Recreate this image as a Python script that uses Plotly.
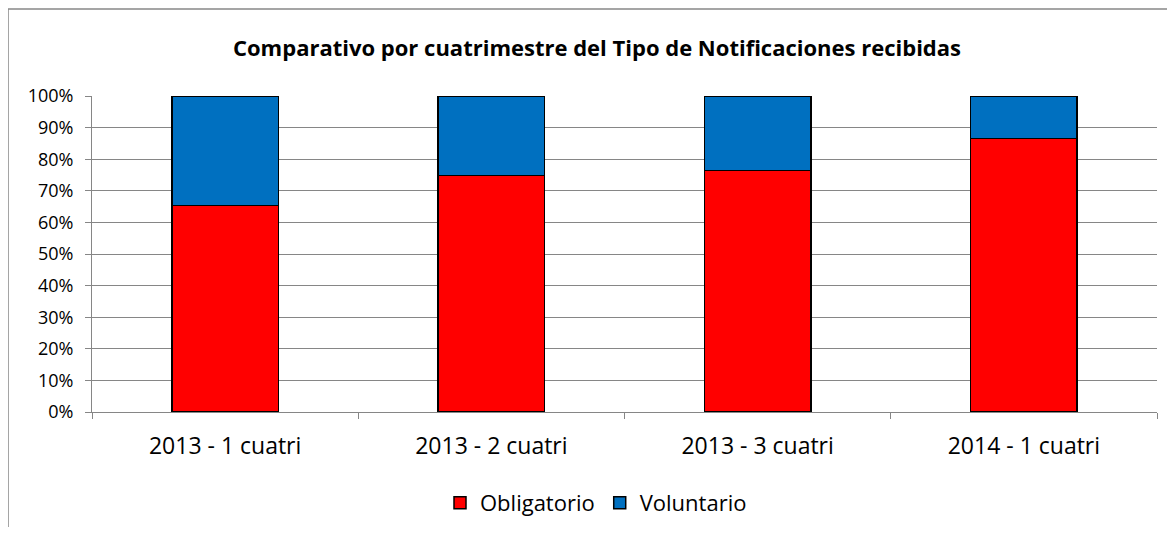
import plotly.graph_objects as go

categories = ["2013 - 1 cuatri", "2013 - 2 cuatri", "2013 - 3 cuatri", "2014 - 1 cuatri"]
obligatorio = [65.3, 74.8, 76.5, 86.5]
voluntario = [34.7, 25.2, 23.5, 13.5]
y_ticks = [0, 10, 20, 30, 40, 50, 60, 70, 80, 90, 100]
y_tick_labels = [f"{v}%" for v in y_ticks]

FONT = "Open Sans"
OFF = 8  # page body margin

fig = go.Figure()
fig.add_trace(go.Bar(name="Obligatorio", x=categories, y=obligatorio,
                     marker=dict(color="#FF0000", line=dict(color="#000000", width=1.5)),
                     width=0.4))
fig.add_trace(go.Bar(name="Voluntario", x=categories, y=voluntario,
                     marker=dict(color="#0070C0", line=dict(color="#000000", width=1.5)),
                     width=0.4))

W, H = 1175 - 2 * OFF, 535 - 2 * OFF
L, R, T, B = 92 - OFF, 1157 - OFF, 96 - OFF, 412 - OFF
pw, ph = R - L, B - T

def px(x):
    return (x - OFF - L) / pw

def py(y):
    return (B - (y - OFF)) / ph

fig.update_layout(
    barmode="stack",
    width=W, height=H,
    margin=dict(l=L, r=W - R, t=T, b=H - B, autoexpand=False),
    paper_bgcolor="white", plot_bgcolor="white",
    font=dict(family=FONT, color="#000000"),
    title=dict(text="<b>Comparativo por cuatrimestre del Tipo de Notificaciones recibidas</b>",
               x=px(597), xanchor="center", xref="paper", y=1 - (48 - OFF) / H, yanchor="middle",
               font=dict(family=FONT, size=22, color="#000000")),
    showlegend=True,
    legend=dict(orientation="h", x=px(596), xanchor="center", y=py(503), yanchor="middle",
                font=dict(family=FONT, size=22), traceorder="normal",
                itemwidth=30, tracegroupgap=0),
    xaxis=dict(type="category", tickson="boundaries", ticks="outside", ticklen=6,
               tickcolor="#868686", showline=True, linecolor="#868686", linewidth=1,
               showgrid=False, tickfont=dict(family=FONT, size=23), range=[-0.5, 3.5],
               ticklabelstandoff=13),
    yaxis=dict(range=[0, 100], tickvals=y_ticks, ticktext=y_tick_labels,
               ticks="outside", ticklen=6, tickcolor="#868686",
               showline=True, linecolor="#868686", linewidth=1,
               showgrid=True, gridcolor="#868686", gridwidth=1,
               tickfont=dict(family=FONT, size=18), zeroline=False,
               ticklabelstandoff=8),
    bargap=0.6,
)

fig.add_shape(type="rect", xref="paper", yref="paper",
              x0=px(8), x1=px(1185), y0=py(545), y1=py(9),
              line=dict(color="#888888", width=1.5), fillcolor="rgba(0,0,0,0)", layer="below")

fig.write_html("out.html")
